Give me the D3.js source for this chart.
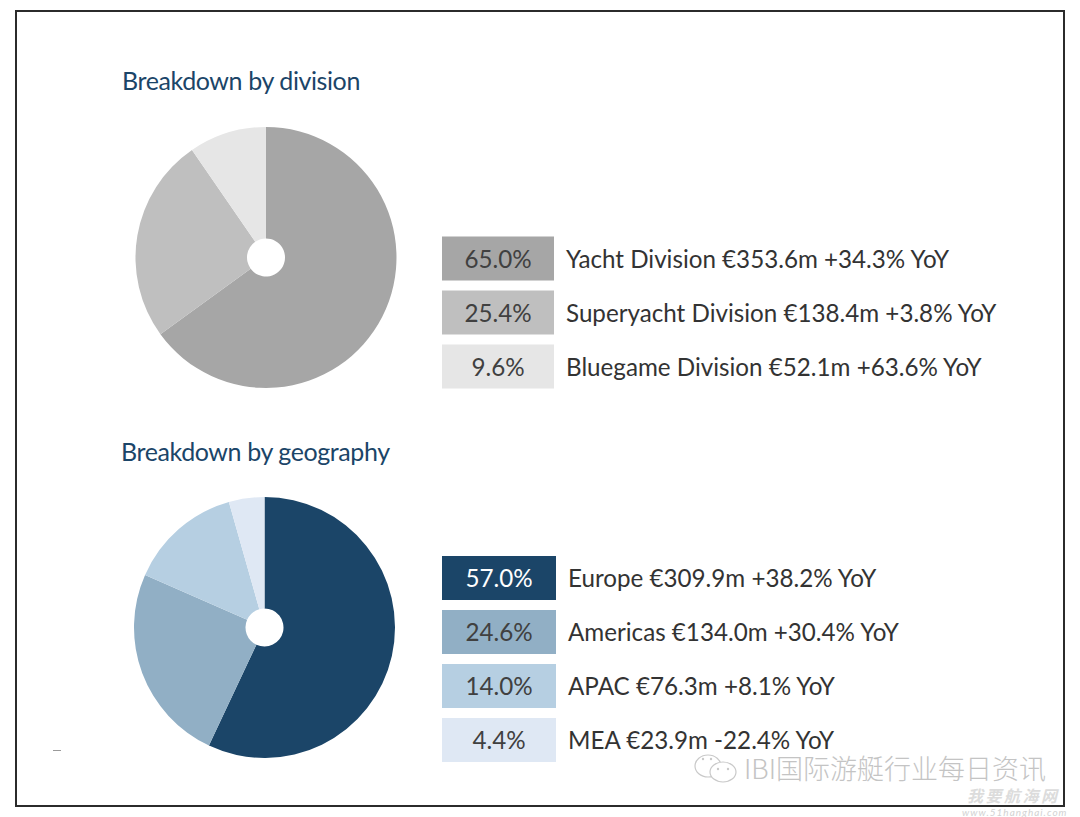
<!DOCTYPE html>
<html>
<head>
<meta charset="utf-8">
<script src="https://cdn.jsdelivr.net/npm/d3@7"></script>
<style>
  html, body { margin: 0; padding: 0; background: #fff; }
  svg { display: block; }
  text { font-family: Lato, "Open Sans", sans-serif; }
</style>
</head>
<body>
<div id="vis-holder"></div>
<script>
// Chart values
const divisionNames = ["Yacht Division", "Superyacht Division", "Bluegame Division"];
const divisionShares = [65.0, 25.4, 9.6];
const divisionDetails = ["€353.6m +34.3% YoY", "€138.4m +3.8% YoY", "€52.1m +63.6% YoY"];

const geographyNames = ["Europe", "Americas", "APAC", "MEA"];
const geographyShares = [57.0, 24.6, 14.0, 4.4];
const geographyDetails = ["€309.9m +38.2% YoY", "€134.0m +30.4% YoY", "€76.3m +8.1% YoY", "€23.9m -22.4% YoY"];

const divisionColors = ["#a6a6a6", "#bfbfbf", "#e6e6e6"];
const geographyColors = ["#1b4568", "#91afc5", "#b6cfe2", "#dfe8f4"];

const width = 1080;
const height = 817;

const svg = d3.select("#vis-holder")
              .append("svg")
              .attr("width", width)
              .attr("height", height)
              .attr("viewBox", [0, 0, width, height]);

// Outer frame
svg.append("rect")
   .attr("x", 16)
   .attr("y", 11)
   .attr("width", 1048)
   .attr("height", 795)
   .attr("fill", "#fff")
   .attr("stroke", "#2b2b2b")
   .attr("stroke-width", 2);

// Draws one title + pie + legend block
function drawBreakdown(opts) {
  const color = d3.scaleOrdinal().domain(opts.names).range(opts.colors);

  svg.append("text")
     .attr("x", opts.titleX)
     .attr("y", opts.titleY)
     .attr("fill", "#1b4568")
     .attr("font-size", 25)
     .attr("letter-spacing", -0.4)
     .text(opts.title);

  const pie = d3.pie().sort(null).value((d) => d.share);
  const arc = d3.arc().innerRadius(19).outerRadius(130.5);
  const rows = opts.names.map((name, i) => ({ name: name, share: opts.shares[i], detail: opts.details[i] }));

  svg.append("g")
     .attr("transform", `translate(${opts.cx},${opts.cy})`)
     .selectAll("path")
     .data(pie(rows))
     .enter()
       .append("path")
       .attr("d", arc)
       .attr("fill", (d) => color(d.data.name));

  // Legend rows sit on a band scale
  const y = d3.scaleBand()
              .domain(opts.names)
              .range([opts.legendTop, opts.legendTop + opts.names.length * 54 - 10])
              .paddingInner(10 / 54);

  const row = svg.append("g")
                 .selectAll("g")
                 .data(rows)
                 .enter()
                   .append("g")
                   .attr("transform", (d) => `translate(0,${y(d.name)})`);

  row.append("rect")
     .attr("x", 442)
     .attr("width", opts.boxWidth)
     .attr("height", y.bandwidth())
     .attr("fill", (d) => color(d.name));

  row.append("text")
     .attr("x", 442 + opts.boxWidth / 2)
     .attr("y", y.bandwidth() / 2 + 9)
     .attr("text-anchor", "middle")
     .attr("font-size", 24.2)
     .attr("fill", (d, i) => opts.valueColors[i])
     .text((d) => d.share.toFixed(1) + "%");

  row.append("text")
     .attr("x", opts.labelX)
     .attr("y", y.bandwidth() / 2 + 9)
     .attr("font-size", 24.2)
     .attr("fill", "#333333")
     .text((d) => d.name + " " + d.detail);
}

drawBreakdown({
  title: "Breakdown by division",
  titleX: 122, titleY: 90,
  names: divisionNames, shares: divisionShares, details: divisionDetails,
  colors: divisionColors,
  valueColors: ["#404040", "#404040", "#404040"],
  cx: 266, cy: 257.5,
  legendTop: 236.5, boxWidth: 112, labelX: 566
});

drawBreakdown({
  title: "Breakdown by geography",
  titleX: 121, titleY: 461,
  names: geographyNames, shares: geographyShares, details: geographyDetails,
  colors: geographyColors,
  valueColors: ["#ffffff", "#404040", "#404040", "#404040"],
  cx: 264.5, cy: 627.5,
  legendTop: 556, boxWidth: 114, labelX: 568
});

// Tiny dash at lower left
svg.append("rect")
   .attr("x", 53).attr("y", 750)
   .attr("width", 8).attr("height", 1)
   .attr("fill", "#9a9a9a");

// WeChat style watermark
const bubbles = svg.append("g")
                   .attr("fill", "#fff")
                   .attr("stroke", "#c9c9c9")
                   .attr("stroke-width", 1.2);
bubbles.append("ellipse").attr("cx", 708).attr("cy", 766).attr("rx", 13).attr("ry", 11);
bubbles.append("ellipse").attr("cx", 723).attr("cy", 772).attr("rx", 13).attr("ry", 10);

const eyes = [[703, 759], [711, 759], [718, 769], [728, 769]];
svg.append("g")
   .selectAll("circle")
   .data(eyes)
   .enter()
     .append("circle")
     .attr("cx", (d) => d[0])
     .attr("cy", (d) => d[1])
     .attr("r", 1.2)
     .attr("fill", "#c9c9c9");

svg.append("text")
   .attr("x", 744)
   .attr("y", 779)
   .attr("font-size", 27)
   .attr("fill", "#c4c4c4")
   .style("font-family", "'Noto Sans CJK SC', sans-serif")
   .style("font-weight", 300)
   .text("IBI国际游艇行业每日资讯");

svg.append("text")
   .attr("x", 967)
   .attr("y", 802)
   .attr("font-size", 16)
   .attr("letter-spacing", 2.5)
   .attr("font-style", "italic")
   .attr("font-weight", 700)
   .attr("fill", "#dcdcdc")
   .style("font-family", "'Noto Sans CJK SC', sans-serif")
   .text("我要航海网");

svg.append("text")
   .attr("x", 962)
   .attr("y", 816)
   .attr("font-size", 10)
   .attr("letter-spacing", 1)
   .attr("font-style", "italic")
   .attr("fill", "#d2d2d2")
   .text("www.51hanghai.com");
</script>
</body>
</html>
